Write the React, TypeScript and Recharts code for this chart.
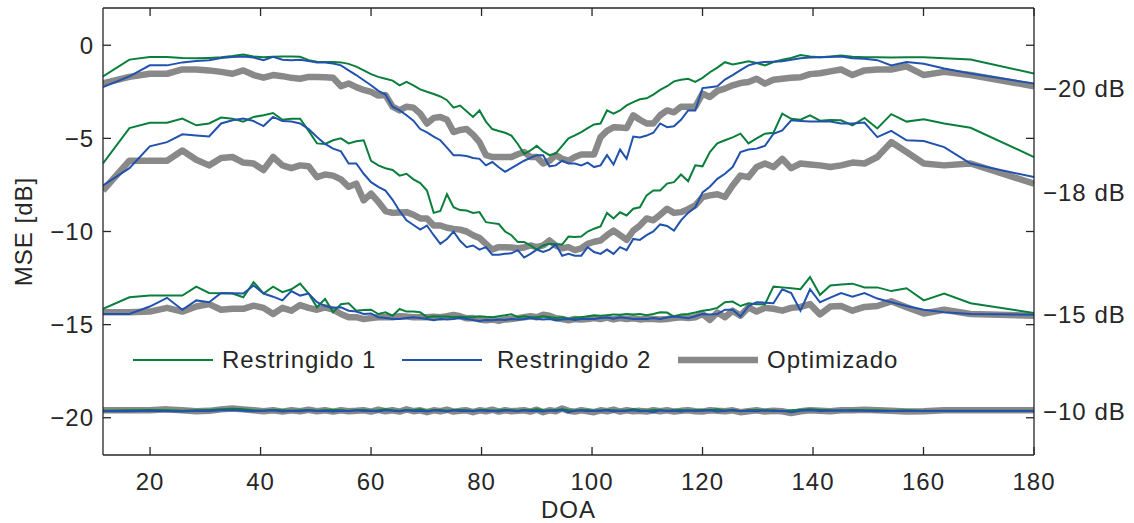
import { LineChart, Line, XAxis, YAxis, Legend } from 'recharts';

// DOA sampling points (degrees)
const doa = [
  11.48, 16.26, 19.95, 23.07, 25.84, 28.36, 30.68, 32.86, 34.92, 36.87,
  38.74, 40.54, 42.27, 43.95, 45.57, 47.16, 48.7, 50.21, 51.68, 53.13,
  54.55, 55.94, 57.32, 58.67, 60, 61.31, 62.61, 63.9, 65.17, 66.42,
  67.67, 68.9, 70.12, 71.34, 72.54, 73.74, 74.93, 76.11, 77.29, 78.46,
  79.63, 80.79, 81.95, 83.11, 84.26, 85.41, 86.56, 87.71, 88.85, 90,
  91.15, 92.29, 93.44, 94.59, 95.74, 96.89, 98.05, 99.21, 100.37, 101.54,
  102.71, 103.89, 105.07, 106.26, 107.46, 108.66, 109.88, 111.1, 112.33, 113.58,
  114.83, 116.1, 117.39, 118.69, 120, 121.33, 122.68, 124.06, 125.45, 126.87,
  128.32, 129.79, 131.3, 132.84, 134.43, 136.05, 137.73, 139.46, 141.26, 143.13,
  145.08, 147.14, 149.32, 151.64, 154.16, 156.93, 160.05, 163.74, 168.52, 180,
];

// -20 dB
const r1_m20 = [
  -1.67, -0.77, -0.63, -0.63, -0.68, -0.7, -0.68, -0.65, -0.58, -0.5,
  -0.6, -0.65, -0.62, -0.6, -0.6, -0.62, -0.8, -0.88, -0.9, -0.9,
  -0.92, -1.0, -1.15, -1.35, -1.55, -1.7, -1.8, -1.9, -2.15, -1.97,
  -2.15, -2.37, -2.5, -2.62, -2.75, -2.95, -3.35, -3.24, -3.55, -3.85,
  -3.5, -4.1, -4.5, -4.6, -4.7, -4.85, -5.3, -5.83, -5.65, -5.4,
  -5.7, -5.9, -5.8, -5.4, -5.0, -4.84, -4.66, -4.45, -4.25, -4.2,
  -3.5, -3.67, -3.5, -3.23, -3.05, -2.9, -2.85, -2.65, -2.4, -2.2,
  -1.94, -1.85, -1.8, -1.97, -1.75, -1.45, -1.2, -0.91, -1.03, -0.95,
  -0.86, -0.95, -1.08, -0.9, -0.78, -0.68, -0.52, -0.6, -0.65, -0.6,
  -0.55, -0.62, -0.65, -0.65, -0.66, -0.65, -0.65, -0.7, -0.77, -1.52,
];
const r2_m20 = [
  -2.24, -1.67, -1.08, -1.08, -0.92, -0.84, -0.8, -0.68, -0.63, -0.6,
  -0.66, -0.8, -0.62, -0.78, -0.8, -0.78, -0.85, -0.93, -0.93, -0.98,
  -1.08, -1.35, -1.6, -1.88, -2.15, -2.45, -2.65, -3.3, -3.5, -3.76,
  -4.05, -4.5, -4.68, -4.9, -5.1, -5.5, -5.9, -5.9, -5.95, -6.05,
  -6.1, -6.45, -6.27, -6.55, -6.8, -6.6, -6.4, -6.2, -6.05, -5.9,
  -5.9, -6.5, -6.45, -6.2, -6.35, -6.35, -6.45, -6.3, -6.54, -6.45,
  -5.9, -6.4, -5.6, -6.1, -4.9, -4.95, -4.85, -4.7, -4.2, -4.4,
  -4.35, -4.0, -3.5, -3.5, -2.3, -2.25, -2.2, -1.84, -1.6, -1.34,
  -1.08, -0.95, -0.9, -0.88, -0.86, -0.78, -0.7, -0.66, -0.65, -0.63,
  -0.6, -0.7, -0.72, -0.8, -1.08, -0.9, -0.99, -1.25, -1.52, -2.06,
];
const opt_m20 = [
  -2.05, -1.7, -1.53, -1.53, -1.3, -1.3, -1.35, -1.43, -1.53, -1.35,
  -1.6, -1.74, -1.6, -1.66, -1.75, -1.8, -1.7, -1.7, -1.72, -1.75,
  -2.2, -2.05, -2.25, -2.4, -2.5, -2.7, -2.67, -3.3, -3.5, -3.3,
  -3.35, -3.67, -4.2, -3.9, -3.85, -4.0, -4.66, -4.55, -4.5, -4.8,
  -5.2, -5.9, -6.0, -6.0, -6.0, -6.0, -5.85, -5.73, -6.0, -6.0,
  -6.35, -6.2, -5.9, -6.1, -6.2, -6.0, -5.86, -5.86, -5.86, -4.93,
  -4.6, -4.4, -4.42, -4.45, -3.76, -4.0, -4.2, -4.2, -3.76, -3.5,
  -3.6, -3.3, -3.3, -3.3, -2.6, -2.78, -2.45, -2.33, -2.15, -2.03,
  -1.97, -1.8, -2.06, -1.85, -1.8, -1.74, -1.72, -1.55, -1.5, -1.4,
  -1.3, -1.6, -1.35, -1.3, -1.3, -1.13, -1.6, -1.43, -1.6, -2.2,
];

// -18 dB
const r1_m18 = [
  -6.35, -4.45, -4.16, -4.16, -3.94, -4.3, -4.2, -3.88, -3.94, -4.1,
  -3.85, -3.76, -3.64, -4.0, -3.94, -3.94, -4.6, -5.27, -5.3, -5.1,
  -5.0, -5.27, -5.15, -5.1, -6.2, -6.45, -6.6, -6.7, -7.0, -6.9,
  -7.2, -7.4, -7.8, -9.0, -8.9, -8.0, -8.7, -8.85, -8.87, -9.0,
  -8.96, -9.5, -9.55, -9.6, -10.0, -10.2, -10.57, -10.57, -10.75, -10.97,
  -10.75, -10.66, -10.68, -10.7, -10.27, -10.3, -10.27, -10.0, -9.85, -9.73,
  -9.0, -9.3, -8.97, -9.14, -8.78, -8.7, -8.06, -7.8, -7.8, -7.43,
  -7.35, -6.94, -7.3, -6.45, -6.5, -5.73, -5.27, -5.1, -4.95, -4.75,
  -5.27, -5.0, -4.75, -4.7, -3.67, -3.95, -4.0, -3.76, -4.05, -4.02,
  -4.03, -4.3, -3.9, -4.47, -3.7, -4.1, -3.98, -4.2, -4.43, -6.0,
];
const r2_m18 = [
  -7.53, -6.6, -5.43, -5.2, -4.78, -4.85, -4.9, -4.2, -4.03, -3.94,
  -4.07, -4.34, -3.85, -4.07, -4.1, -4.2, -4.5, -4.93, -5.3, -5.55,
  -5.7, -6.35, -6.35, -6.9, -7.35, -7.6, -7.8, -8.3, -8.9, -9.4,
  -9.65, -9.9, -9.68, -10.2, -10.66, -10.4, -10.0, -10.5, -10.84, -10.75,
  -10.97, -10.84, -11.25, -11.25, -11.2, -11.17, -11.0, -11.4, -11.2, -10.97,
  -11.1, -10.97, -10.7, -11.3, -11.2, -11.3, -11.3, -10.84, -11.1, -11.2,
  -10.97, -11.2, -10.84, -11.0, -10.4, -10.45, -10.2, -10.0, -9.62, -9.7,
  -9.95, -9.4, -9.0, -8.7, -7.9, -7.6, -7.17, -6.9, -6.54, -5.73,
  -5.6, -5.55, -5.4, -4.75, -4.57, -4.03, -4.07, -4.1, -4.1, -4.1,
  -4.2, -4.2, -4.15, -4.93, -4.6, -5.1, -5.14, -5.47, -6.35, -7.08,
];
const opt_m18 = [
  -7.8, -6.2, -6.2, -6.2, -5.65, -6.15, -6.45, -6.05, -6.0, -6.3,
  -6.35, -6.7, -6.0, -6.45, -6.6, -6.45, -6.5, -7.08, -6.94, -7.0,
  -7.2, -7.6, -7.43, -8.33, -7.97, -8.4, -8.9, -9.0, -8.98, -8.96,
  -9.1, -9.3, -9.3, -9.68, -9.68, -9.8, -9.86, -9.9, -10.0, -10.2,
  -10.35, -10.66, -10.97, -10.84, -10.84, -10.86, -10.9, -10.86, -10.75, -10.84,
  -10.75, -10.48, -10.75, -10.9, -10.84, -11.0, -10.9, -10.66, -10.55, -10.48,
  -10.2, -9.95, -10.2, -10.45, -9.95, -9.68, -9.3, -9.4, -9.1, -8.78,
  -9.0, -8.96, -8.8, -8.6, -8.15, -8.06, -8.0, -8.15, -7.53, -7.0,
  -7.08, -6.54, -6.35, -6.54, -6.1, -6.6, -6.35, -6.4, -6.45, -6.54,
  -6.45, -6.3, -6.35, -6.0, -5.2, -5.73, -6.35, -6.45, -6.35, -7.43,
];

// -15 dB
const r1_m15 = [
  -14.15, -13.53, -13.44, -13.44, -13.44, -12.96, -13.3, -13.32, -13.33, -13.53,
  -12.72, -13.33, -12.96, -13.26, -13.1, -12.8, -13.33, -14.07, -13.62, -14.34,
  -13.9, -13.85, -14.25, -14.22, -14.2, -14.43, -14.34, -14.52, -14.16, -14.3,
  -14.3, -14.34, -14.6, -14.55, -14.57, -14.57, -14.6, -14.58, -14.6, -14.6,
  -14.55, -14.58, -14.6, -14.55, -14.5, -14.44, -14.6, -14.55, -14.6, -14.6,
  -14.55, -14.6, -14.65, -14.6, -14.7, -14.65, -14.6, -14.55, -14.5, -14.52,
  -14.5, -14.45, -14.47, -14.43, -14.45, -14.43, -14.5, -14.43, -14.34, -14.35,
  -14.57, -14.45, -14.43, -14.35, -14.25, -14.2, -14.1, -13.8, -13.76, -14.0,
  -13.85, -13.9, -13.9, -12.96, -13.0, -13.05, -13.1, -12.45, -13.4, -12.9,
  -12.85, -12.8, -13.0, -13.0, -13.2, -13.05, -13.7, -13.33, -13.85, -14.38,
];
const r2_m15 = [
  -14.43, -14.43, -14.03, -13.56, -14.2, -13.7, -13.8, -13.3, -13.32, -13.33,
  -12.9, -13.33, -13.5, -13.7, -13.2, -13.44, -13.33, -13.8, -14.0, -14.1,
  -14.07, -14.25, -14.3, -14.43, -14.4, -14.6, -14.65, -14.7, -14.7, -14.65,
  -14.6, -14.65, -14.7, -14.77, -14.7, -14.72, -14.7, -14.65, -14.7, -14.75,
  -14.8, -14.75, -14.77, -14.72, -14.75, -14.7, -14.72, -14.7, -14.65, -14.7,
  -14.72, -14.7, -14.77, -14.72, -14.7, -14.75, -14.7, -14.68, -14.7, -14.65,
  -14.62, -14.68, -14.6, -14.65, -14.7, -14.68, -14.7, -14.65, -14.7, -14.62,
  -14.57, -14.6, -14.66, -14.55, -14.43, -14.45, -14.43, -14.2, -14.2, -14.57,
  -14.0, -13.8, -13.82, -13.85, -13.1, -13.3, -14.25, -13.1, -13.8, -13.55,
  -13.3, -13.5, -13.3, -13.6, -13.8, -14.0, -14.2, -14.34, -14.43, -14.47,
];
const opt_m15 = [
  -14.34, -14.34, -14.3, -14.1, -14.3, -14.03, -13.9, -14.2, -14.15, -14.15,
  -13.98, -14.1, -14.43, -14.1, -14.25, -13.95, -14.1, -14.2, -14.07, -14.2,
  -14.43, -14.6, -14.6, -14.7, -14.65, -14.6, -14.6, -14.6, -14.55, -14.57,
  -14.6, -14.6, -14.6, -14.58, -14.6, -14.55, -14.48, -14.55, -14.66, -14.65,
  -14.72, -14.77, -14.72, -14.8, -14.72, -14.7, -14.65, -14.6, -14.55, -14.6,
  -14.47, -14.52, -14.66, -14.7, -14.77, -14.7, -14.72, -14.7, -14.65, -14.7,
  -14.62, -14.72, -14.65, -14.7, -14.66, -14.72, -14.68, -14.7, -14.72, -14.7,
  -14.65, -14.6, -14.65, -14.6, -14.43, -14.75, -14.35, -14.6, -14.25, -14.52,
  -14.07, -14.3, -14.1, -14.15, -14.25, -14.1, -14.05, -13.9, -14.45, -14.03,
  -14.0, -14.25, -14.05, -14.0, -13.75, -14.07, -14.4, -14.2, -14.43, -14.52,
];

// -10 dB
const r1_m10 = [
  -19.62, -19.6, -19.58, -19.6, -19.62, -19.6, -19.58, -19.55, -19.52, -19.55,
  -19.6, -19.62, -19.58, -19.6, -19.62, -19.6, -19.58, -19.62, -19.6, -19.58,
  -19.6, -19.62, -19.6, -19.58, -19.62, -19.6, -19.55, -19.6, -19.62, -19.58,
  -19.6, -19.55, -19.62, -19.6, -19.58, -19.62, -19.6, -19.58, -19.6, -19.62,
  -19.6, -19.58, -19.62, -19.6, -19.58, -19.6, -19.62, -19.58, -19.6, -19.55,
  -19.6, -19.62, -19.58, -19.55, -19.6, -19.62, -19.6, -19.58, -19.62, -19.6,
  -19.58, -19.6, -19.62, -19.6, -19.55, -19.6, -19.62, -19.58, -19.6, -19.62,
  -19.6, -19.58, -19.62, -19.6, -19.58, -19.6, -19.55, -19.62, -19.6, -19.65,
  -19.6, -19.58, -19.62, -19.6, -19.65, -19.6, -19.58, -19.55, -19.58, -19.6,
  -19.62, -19.58, -19.6, -19.6, -19.62, -19.6, -19.62, -19.62, -19.62, -19.62,
];
const r2_m10 = [
  -19.65, -19.65, -19.63, -19.65, -19.66, -19.62, -19.64, -19.6, -19.58, -19.62,
  -19.65, -19.63, -19.6, -19.66, -19.62, -19.65, -19.6, -19.64, -19.62, -19.66,
  -19.62, -19.65, -19.6, -19.64, -19.62, -19.66, -19.6, -19.63, -19.65, -19.6,
  -19.64, -19.62, -19.66, -19.6, -19.63, -19.66, -19.6, -19.64, -19.62, -19.65,
  -19.6, -19.64, -19.62, -19.66, -19.6, -19.63, -19.65, -19.6, -19.64, -19.62,
  -19.66, -19.6, -19.64, -19.58, -19.7, -19.62, -19.6, -19.65, -19.62, -19.64,
  -19.6, -19.66, -19.62, -19.64, -19.6, -19.65, -19.62, -19.7, -19.6, -19.64,
  -19.62, -19.66, -19.6, -19.64, -19.62, -19.6, -19.66, -19.62, -19.58, -19.64,
  -19.62, -19.65, -19.6, -19.64, -19.62, -19.7, -19.62, -19.6, -19.64, -19.62,
  -19.6, -19.63, -19.62, -19.65, -19.64, -19.64, -19.64, -19.64, -19.64, -19.64,
];
const opt_m10 = [
  -19.6, -19.6, -19.6, -19.55, -19.6, -19.65, -19.63, -19.55, -19.5, -19.55,
  -19.6, -19.65, -19.6, -19.67, -19.6, -19.65, -19.57, -19.65, -19.6, -19.67,
  -19.6, -19.65, -19.63, -19.6, -19.67, -19.57, -19.65, -19.6, -19.67, -19.55,
  -19.65, -19.6, -19.7, -19.6, -19.65, -19.57, -19.67, -19.63, -19.6, -19.7,
  -19.6, -19.65, -19.57, -19.67, -19.6, -19.65, -19.63, -19.6, -19.67, -19.57,
  -19.7, -19.6, -19.65, -19.5, -19.63, -19.67, -19.6, -19.65, -19.7, -19.6,
  -19.65, -19.57, -19.67, -19.6, -19.65, -19.63, -19.67, -19.6, -19.65, -19.6,
  -19.67, -19.63, -19.6, -19.65, -19.67, -19.6, -19.63, -19.65, -19.6, -19.7,
  -19.65, -19.6, -19.67, -19.63, -19.65, -19.75, -19.65, -19.6, -19.63, -19.65,
  -19.6, -19.6, -19.57, -19.6, -19.63, -19.67, -19.65, -19.6, -19.6, -19.6,
];

const xTicks = [20, 40, 60, 80, 100, 120, 140, 160, 180];
const yTicks = [-20, -15, -10, -5, 0];
const snrLabels = ['−20 dB', '−18 dB', '−15 dB', '−10 dB'];
const snrLabelAt = [-2.31, -7.89, -14.44, -19.68];
const seriesNames = ['Restringido 1', 'Restringido 2', 'Optimizado'];

const GREEN = '#0a7f3c';
const BLUE = '#2152ad';
const GRAY = '#898989';
const INK = '#262626';

const groups = [
  { key: 'm20', r1: r1_m20, r2: r2_m20, opt: opt_m20 },
  { key: 'm18', r1: r1_m18, r2: r2_m18, opt: opt_m18 },
  { key: 'm15', r1: r1_m15, r2: r2_m15, opt: opt_m15 },
  { key: 'm10', r1: r1_m10, r2: r2_m10, opt: opt_m10 },
];

const rows = doa.map((x, i) => {
  const row: Record<string, number> = { x };
  groups.forEach((g) => {
    row[`r1_${g.key}`] = g.r1[i];
    row[`r2_${g.key}`] = g.r2[i];
    row[`opt_${g.key}`] = g.opt[i];
  });
  return row;
});

const fmt = (v: number) => (v < 0 ? `\u2212${-v}` : `${v}`);
const blank = () => '';

const axisStroke = { stroke: INK, strokeWidth: 1.3 };
const tickText = { fill: INK, fontSize: 24 };

function SeriesLegend() {
  const items = [
    { name: seriesNames[0], color: GREEN, width: 2, x1: 133, x2: 213, tx: 222 },
    { name: seriesNames[1], color: BLUE, width: 2, x1: 402, x2: 482, tx: 497 },
    { name: seriesNames[2], color: GRAY, width: 6.5, x1: 678, x2: 758, tx: 767 },
  ];
  return (
    <svg
      width={1134}
      height={523}
      style={{ position: 'absolute', left: 0, top: 0, overflow: 'visible', pointerEvents: 'none' }}
    >
      {items.map((it) => (
        <g key={it.name}>
          <line x1={it.x1} x2={it.x2} y1={360} y2={360} stroke={it.color} strokeWidth={it.width} />
          <text x={it.tx} y={368} fontSize={24} fill={INK}>
            {it.name}
          </text>
        </g>
      ))}
    </svg>
  );
}

export default function App() {
  return (
    <div
      style={{
        position: 'absolute',
        left: 0,
        top: 0,
        fontFamily: '"Liberation Sans", Arial, sans-serif',
        letterSpacing: 1,
        background: '#fff',
      }}
    >
      <LineChart width={1134} height={523} data={rows} margin={{ top: 7, right: 0, bottom: 0, left: 0 }}>
        <XAxis
          dataKey="x"
          type="number"
          domain={[11.48, 180]}
          allowDataOverflow
          ticks={xTicks}
          interval={0}
          tickSize={-8}
          tickMargin={26}
          height={68}
          axisLine={axisStroke}
          tickLine={axisStroke}
          tick={tickText}
          label={{ value: 'DOA', position: 'insideBottom', offset: 5, fill: INK, fontSize: 24 }}
        />
        <XAxis
          xAxisId="top"
          dataKey="x"
          orientation="top"
          type="number"
          domain={[11.48, 180]}
          allowDataOverflow
          ticks={xTicks}
          interval={0}
          tickSize={-8}
          height={1}
          axisLine={axisStroke}
          tickLine={axisStroke}
          tickFormatter={blank}
        />
        <YAxis
          domain={[-22, 2]}
          allowDataOverflow
          ticks={yTicks}
          interval={0}
          tickSize={-8}
          tickMargin={17}
          width={103}
          axisLine={axisStroke}
          tickLine={axisStroke}
          tick={tickText}
          tickFormatter={fmt}
          label={{
            value: 'MSE [dB]',
            angle: -90,
            position: 'insideLeft',
            offset: 23,
            fill: INK,
            fontSize: 24,
            style: { textAnchor: 'middle' },
          }}
        />
        <YAxis
          yAxisId="lab"
          orientation="right"
          domain={[-22, 2]}
          allowDataOverflow
          ticks={snrLabelAt}
          interval={0}
          tickSize={0}
          tickMargin={8}
          width={99}
          axisLine={false}
          tickLine={false}
          tick={{ ...tickText, textAnchor: 'start' }}
          tickFormatter={(v: number) => snrLabels[snrLabelAt.indexOf(v)]}
        />
        <YAxis
          yAxisId="frame"
          orientation="right"
          domain={[-22, 2]}
          allowDataOverflow
          ticks={yTicks}
          interval={0}
          tickSize={-8}
          width={1}
          axisLine={axisStroke}
          tickLine={axisStroke}
          tickFormatter={blank}
        />
        <Legend content={<SeriesLegend />} wrapperStyle={{ left: 0, top: 0, width: 0, height: 0 }} />
        {/* hidden carrier series so the mirrored axes (top / right) get drawn */}
        <Line
          dataKey="opt_m10"
          xAxisId="top"
          yAxisId="frame"
          stroke="none"
          dot={false}
          activeDot={false}
          legendType="none"
          isAnimationActive={false}
        />
        <Line
          dataKey="opt_m10"
          yAxisId="lab"
          stroke="none"
          dot={false}
          activeDot={false}
          legendType="none"
          isAnimationActive={false}
        />
        {groups.map((g) => (
          <Line
            key={`opt_${g.key}`}
            dataKey={`opt_${g.key}`}
            name={seriesNames[2]}
            type="linear"
            stroke={GRAY}
            strokeWidth={6.5}
            strokeLinejoin="round"
            dot={false}
            activeDot={false}
            isAnimationActive={false}
          />
        ))}
        {groups.map((g) => (
          <Line
            key={`r1_${g.key}`}
            dataKey={`r1_${g.key}`}
            name={seriesNames[0]}
            type="linear"
            stroke={GREEN}
            strokeWidth={2}
            dot={false}
            activeDot={false}
            isAnimationActive={false}
          />
        ))}
        {groups.map((g) => (
          <Line
            key={`r2_${g.key}`}
            dataKey={`r2_${g.key}`}
            name={seriesNames[1]}
            type="linear"
            stroke={BLUE}
            strokeWidth={2}
            dot={false}
            activeDot={false}
            isAnimationActive={false}
          />
        ))}
      </LineChart>
    </div>
  );
}
